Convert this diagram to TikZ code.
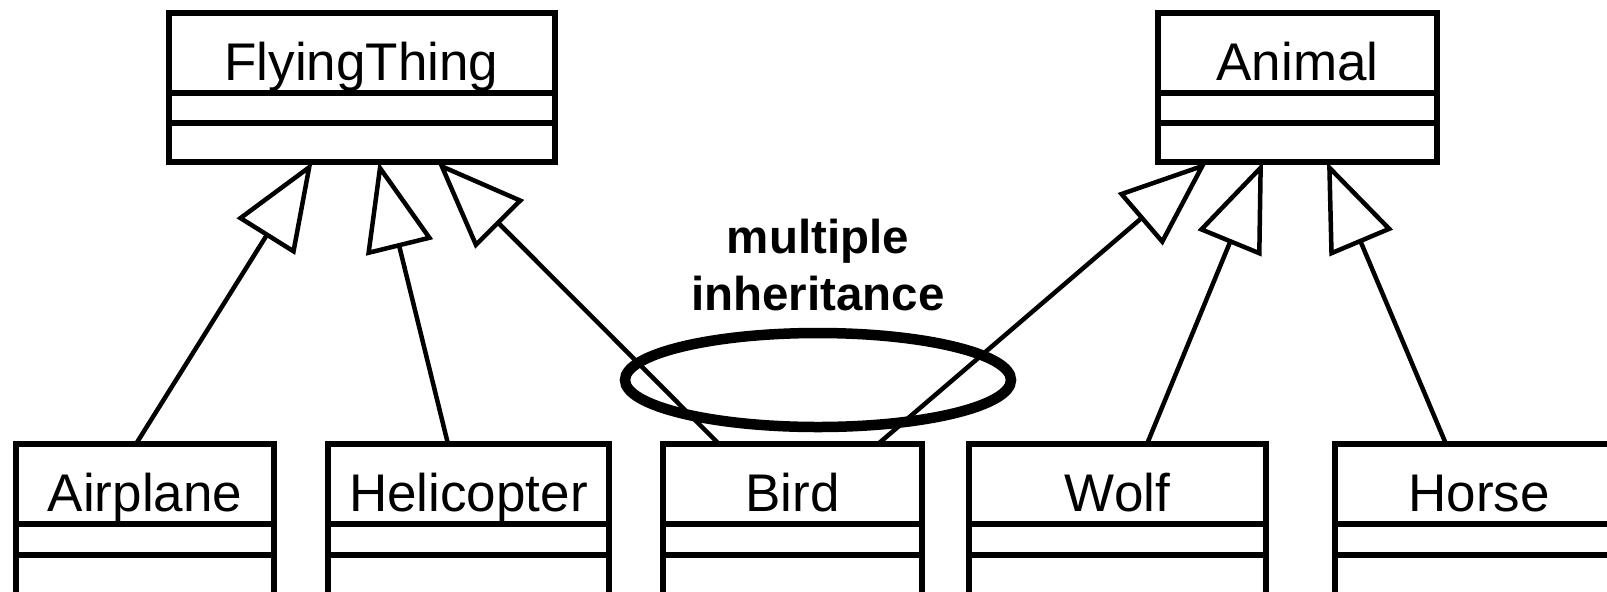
\documentclass[tikz,border=0pt]{standalone}
\usepackage{fontspec}
\setmainfont{Liberation Sans}
\usetikzlibrary{arrows.meta,shapes.geometric}

% one compartment of a UML class box
\tikzset{
  compart/.style={draw, line width=3pt, inner sep=0pt, outer sep=0pt, fill=white},
  classname/.style={compart, anchor=north west, text height=27pt, text depth=0pt,
    font=\fontsize{26.5}{30}\selectfont},
  inherits/.style={draw, line width=2.25pt,
    -{Triangle[open, length=44pt, width=34pt]}},
  note/.style={font=\bfseries\fontsize{23.75}{28.5}\selectfont, align=center},
  grouping/.style={draw, ellipse, line width=5.25pt, inner sep=0pt, outer sep=0pt,
    minimum width=193pt, minimum height=47pt}
}

% id, left, top, width, name, height of name / attribute / operation compartments
\newcommand{\classbox}[8]{%
  \node[classname, minimum width=#4, minimum height=#6] (#1) at (#2,#3) {#5};
  \node[compart, anchor=north, minimum width=#4, minimum height=#7] (#1-a) at (#1.south) {};
  \node[compart, anchor=north, minimum width=#4, minimum height=#8] (#1-o) at (#1-a.south) {};
}

\begin{document}
\begin{tikzpicture}[x=0.5pt, y=-0.5pt]
  \clip (0,0) rectangle (1607,591);

  % superclasses
  \classbox{ft}{168.5}{13}{193pt}{FlyingThing}{40pt}{15pt}{19.5pt}
  \classbox{an}{1158}{13}{139.5pt}{Animal}{40pt}{15pt}{19.5pt}

  % subclasses
  \classbox{air}{16}{444}{129pt}{Airplane}{40pt}{15.5pt}{30pt}
  \classbox{hel}{328}{444}{140.5pt}{Helicopter}{40pt}{15.5pt}{30pt}
  \classbox{bird}{663}{444}{129.5pt}{Bird}{40pt}{15.5pt}{30pt}
  \classbox{wolf}{969}{444}{148.5pt}{Wolf}{40pt}{15.5pt}{30pt}
  \classbox{horse}{1335}{444}{144pt}{Horse}{40pt}{15.5pt}{30pt}

  % generalisations
  \draw[inherits] ([xshift=-4.5pt]air.north)    -- ([xshift=-24.5pt]ft-o.south);
  \draw[inherits] ([xshift=-10.25pt]hel.north)  -- ([xshift=8.5pt]ft-o.south);
  \draw[inherits] ([xshift=-36.75pt]bird.north) -- ([xshift=38pt]ft-o.south);
  \draw[inherits] ([xshift=42.75pt]bird.north)  -- ([xshift=-45.25pt]an-o.south);
  \draw[inherits] ([xshift=14.75pt]wolf.north)  -- ([xshift=-17.25pt]an-o.south);
  \draw[inherits] ([xshift=-16.5pt]horse.north) -- ([xshift=14.75pt]an-o.south);

  % multiple inheritance annotation
  \node[grouping] (mi) at (818,380) {};
  \node[note] (milabel) at (818,265) {multiple\\inheritance};
\end{tikzpicture}
\end{document}
